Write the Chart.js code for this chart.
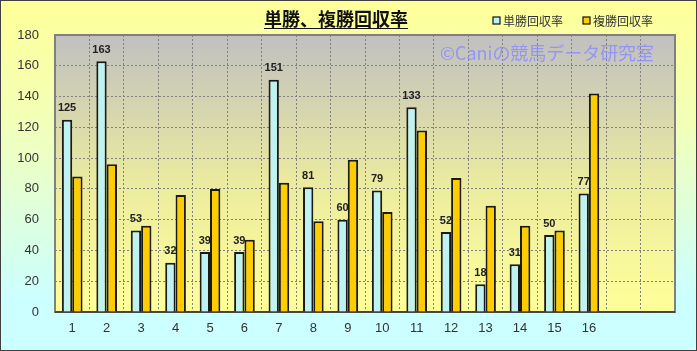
<!DOCTYPE html>
<html>
<head>
<meta charset="utf-8">
<script src="https://cdn.jsdelivr.net/npm/chart.js@4"></script>
<style>
  html,body{margin:0;padding:0;background:#fff;}
  #wrap{width:697px;height:351px;}
</style>
</head>
<body>
<div id="wrap"><canvas id="c" width="697" height="351"></canvas></div>
<script>
// 単勝・複勝回収率
const races = ['1','2','3','4','5','6','7','8','9','10','11','12','13','14','15','16','',''];
const tanshou = [125,163,53,32,39,39,151,81,60,79,133,52,18,31,50,77,null,null];
const fukushou = [88,96,56,76,80,47,84,59,99,65,118,87,69,56,53,142,null,null];
const yTicks = [0,20,40,60,80,100,120,140,160,180];
const seriesNames = ['単勝回収率','複勝回収率'];
const titleText = '単勝、複勝回収率';
const watermark = '©Caniの競馬データ研究室';

const JP = '"Noto Sans CJK JP", sans-serif';
const LAT = '"Liberation Sans", Arial, sans-serif';

const bgPlugin = {
  id:'bg',
  beforeDraw(chart){
    const {ctx, chartArea:a, width:w, height:h} = chart;
    ctx.save();
    let g = ctx.createLinearGradient(0,0,0,h);
    g.addColorStop(0,'#ffff99'); g.addColorStop(0.35,'#f2ffb8'); g.addColorStop(0.85,'#ccffff'); g.addColorStop(1,'#ccffff');
    ctx.fillStyle = g; ctx.fillRect(0,0,w,h);
    g = ctx.createLinearGradient(0,a.top,0,a.bottom);
    g.addColorStop(0,'#c0c0c0'); g.addColorStop(0.55,'#ecec9f'); g.addColorStop(1,'#ffff99');
    ctx.fillStyle = g; ctx.fillRect(a.left,a.top,a.right-a.left,a.bottom-a.top);
    ctx.restore();
  },
  beforeDatasetsDraw(chart){
    const {ctx, chartArea:a} = chart;
    ctx.save();
    ctx.font = '18px '+JP; ctx.fillStyle = 'rgba(140,140,255,0.85)';
    ctx.textBaseline = 'middle'; ctx.textAlign = 'left';
    ctx.fillText(watermark, 440, 53, 214);
    ctx.strokeStyle = '#808080'; ctx.lineWidth = 2;
    ctx.strokeRect(a.left, a.top, a.right-a.left, a.bottom-a.top);
    ctx.strokeStyle = '#333'; ctx.lineWidth = 1.5;
    ctx.beginPath(); ctx.moveTo(a.left,a.bottom); ctx.lineTo(a.right,a.bottom); ctx.stroke();
    ctx.restore();
  },
  afterDraw(chart){
    const {ctx, width:w, height:h} = chart;
    ctx.save();
    // 値ラベル（単勝のみ）
    const meta = chart.getDatasetMeta(0);
    ctx.font = 'bold 11px '+LAT; ctx.fillStyle = '#222'; ctx.textAlign = 'center'; ctx.textBaseline = 'bottom';
    meta.data.forEach((bar,i) => {
      if (tanshou[i] == null) return;
      ctx.fillText(String(tanshou[i]), bar.x, bar.y - 6);
    });
    // タイトル
    ctx.font = 'bold 18px '+JP; ctx.fillStyle = '#111'; ctx.textAlign = 'center'; ctx.textBaseline = 'middle';
    ctx.fillText(titleText, 336, 19);
    const tw = ctx.measureText(titleText).width;
    ctx.strokeStyle = '#111'; ctx.lineWidth = 1;
    ctx.beginPath(); ctx.moveTo(336-tw/2, 28.5); ctx.lineTo(336+tw/2, 28.5); ctx.stroke();
    // 凡例
    const lx = [493, 583];
    ctx.font = '12px '+JP; ctx.textAlign = 'left';
    chart.data.datasets.forEach((ds,i) => {
      ctx.fillStyle = ds.backgroundColor; ctx.fillRect(lx[i], 17, 7, 7);
      ctx.strokeStyle = '#111'; ctx.lineWidth = 1.2; ctx.strokeRect(lx[i], 17, 7, 7);
      ctx.fillStyle = '#333'; ctx.fillText(ds.label, lx[i]+10, 21);
    });
    // 外枠
    ctx.strokeStyle = '#404040'; ctx.lineWidth = 1; ctx.strokeRect(0.5,0.5,w-1,h-1);
    ctx.restore();
  }
};

new Chart(document.getElementById('c'), {
  type:'bar',
  data:{labels:races, datasets:[
    {label:seriesNames[0], data:tanshou, backgroundColor:'#bff2f2', borderColor:'#1a1a1a', borderWidth:2},
    {label:seriesNames[1], data:fukushou, backgroundColor:'#ffcc00', borderColor:'#1a1a1a', borderWidth:2}
  ]},
  options:{
    responsive:false, animation:false,
    layout:{padding:{left:0, top:35, right:22, bottom:0}},
    datasets:{bar:{categoryPercentage:0.6, barPercentage:1}},
    plugins:{legend:{display:false}, title:{display:false}, tooltip:{enabled:false}},
    scales:{
      x:{
        grid:{offset:true, color:'#808080', lineWidth:1, drawTicks:false},
        border:{display:false, dash:[2,2]},
        ticks:{font:{size:13, family:LAT}, color:'#333', padding:9, maxRotation:0, autoSkip:false},
        afterFit(s){ s.height = 39; }
      },
      y:{
        min:0, max:180,
        afterBuildTicks(s){ s.ticks = yTicks.map(v => ({value:v})); },
        grid:{color:'#808080', lineWidth:1, drawTicks:false},
        border:{display:false, dash:[2,2]},
        ticks:{font:{size:13, family:LAT}, color:'#333', padding:16},
        afterFit(s){ s.width = 55; }
      }
    }
  },
  plugins:[bgPlugin]
});
</script>
</body>
</html>
